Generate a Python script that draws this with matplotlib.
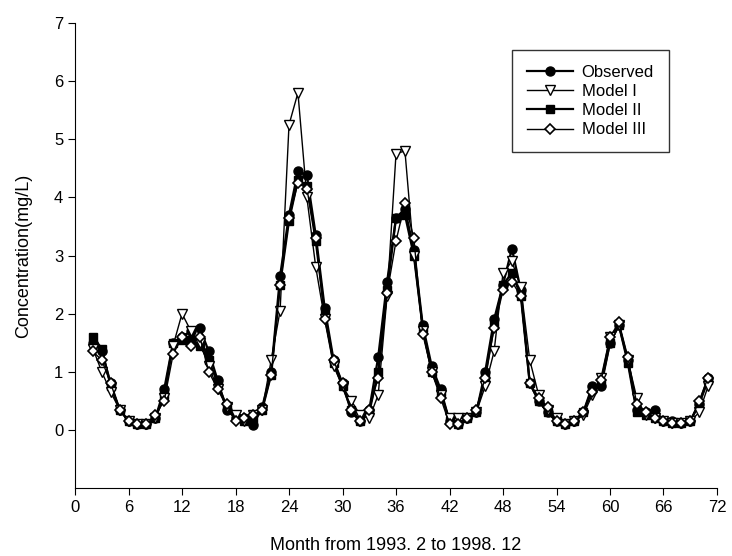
import matplotlib
matplotlib.use("Agg")
import matplotlib.pyplot as plt
import numpy as np

plt.rcParams['font.family'] = ['Liberation Sans', 'DejaVu Sans']

months = list(range(2, 72))

observed = [1.5, 1.35, 0.8, 0.35, 0.15, 0.1, 0.1, 0.2, 0.7, 1.5,
            1.6, 1.7, 1.75, 1.35, 0.85, 0.35, 0.2, 0.2, 0.08, 0.4,
            1.0, 2.65, 3.7, 4.45, 4.38, 3.35, 2.1, 1.2, 0.8, 0.3,
            0.15, 0.35, 1.25, 2.55, 3.65, 3.8, 3.1, 1.8, 1.1, 0.7,
            0.15, 0.1, 0.2, 0.3, 1.0, 1.9, 2.5, 3.12, 2.4, 0.8,
            0.5, 0.3, 0.15, 0.1, 0.15, 0.3, 0.75, 0.75, 1.5, 1.8,
            1.2, 0.35, 0.3, 0.35, 0.15, 0.15, 0.12, 0.15, 0.45, 0.9]

model1 = [1.4, 1.0, 0.65, 0.35, 0.15, 0.1, 0.1, 0.2, 0.55, 1.45,
          2.0, 1.7, 1.5, 1.1, 0.7, 0.4, 0.25, 0.15, 0.25, 0.35,
          1.2, 2.05, 5.25, 5.8, 4.0, 2.8, 1.9, 1.1, 0.75, 0.5,
          0.25, 0.2, 0.6, 2.3, 4.75, 4.8, 3.0, 1.7, 1.0, 0.6,
          0.2, 0.2, 0.2, 0.3, 0.75, 1.35, 2.7, 2.9, 2.45, 1.2,
          0.6, 0.35, 0.2, 0.1, 0.15, 0.25, 0.6, 0.9, 1.6, 1.8,
          1.2, 0.55, 0.25, 0.2, 0.15, 0.12, 0.12, 0.15, 0.3, 0.75]

model2 = [1.6, 1.4, 0.75, 0.35, 0.15, 0.1, 0.1, 0.2, 0.6, 1.5,
          1.55, 1.55, 1.45, 1.2, 0.8, 0.4, 0.2, 0.15, 0.15, 0.35,
          0.95, 2.5, 3.6, 4.3, 4.2, 3.25, 2.0, 1.15, 0.75, 0.35,
          0.15, 0.3, 1.0, 2.4, 3.65, 3.7, 3.0, 1.75, 1.0, 0.65,
          0.15, 0.1, 0.2, 0.3, 0.9, 1.8, 2.5, 2.7, 2.3, 0.8,
          0.5, 0.3, 0.15, 0.1, 0.15, 0.3, 0.7, 0.8, 1.5, 1.8,
          1.15, 0.3, 0.25, 0.2, 0.15, 0.12, 0.12, 0.15, 0.45, 0.85]

model3 = [1.35, 1.2, 0.8, 0.35, 0.15, 0.1, 0.1, 0.25, 0.5, 1.3,
          1.6, 1.45, 1.6, 1.0, 0.7, 0.45, 0.15, 0.2, 0.25, 0.35,
          0.95, 2.5, 3.65, 4.25, 4.15, 3.3, 1.9, 1.2, 0.8, 0.35,
          0.15, 0.35, 0.9, 2.35, 3.25, 3.9, 3.3, 1.65, 1.0, 0.55,
          0.1, 0.1, 0.2, 0.35, 0.9, 1.75, 2.4, 2.55, 2.3, 0.8,
          0.55, 0.4, 0.15, 0.1, 0.15, 0.3, 0.65, 0.85, 1.6, 1.85,
          1.25, 0.45, 0.3, 0.2, 0.15, 0.12, 0.12, 0.15, 0.5, 0.9]

x_ticks = list(range(0, 73, 6))
y_ticks = list(range(0, 8))

fig = plt.figure(figsize=(7.32, 5.56), dpi=100)
ax = fig.add_axes([0.1025, 0.1223, 0.877, 0.8363])

ax.plot(months, observed, color='black', lw=1.6, marker='o', ms=6.5,
        mfc='black', mec='black', label='Observed', zorder=3)
ax.plot(months, model1, color='black', lw=1.0, marker='v', ms=7,
        mfc='white', mec='black', mew=1.0, label='Model I', zorder=4)
ax.plot(months, model2, color='black', lw=1.6, marker='s', ms=5.5,
        mfc='black', mec='black', label='Model II', zorder=3)
ax.plot(months, model3, color='black', lw=1.0, marker='D', ms=5.5,
        mfc='white', mec='black', mew=1.2, label='Model III', zorder=5)

ax.set_xlim(0, 72)
ax.set_ylim(-1, 7)
ax.set_xticks(x_ticks)
ax.set_yticks(y_ticks)
ax.spines['top'].set_visible(False)
ax.spines['right'].set_visible(False)
ax.tick_params(direction='out', length=5, labelsize=12)
ax.set_xlabel('Month from 1993. 2 to 1998. 12', fontsize=13, labelpad=16)
ax.set_ylabel('Concentration(mg/L)', fontsize=13, labelpad=16)

leg = ax.legend(loc='upper left', bbox_to_anchor=(0.667, 0.96), fontsize=12,
                frameon=True, fancybox=False, edgecolor='black',
                handlelength=2.8, handletextpad=0.5, borderpad=0.9,
                labelspacing=0.25)
leg.get_frame().set_linewidth(1.0)

fig.savefig('out.png', dpi=100)
